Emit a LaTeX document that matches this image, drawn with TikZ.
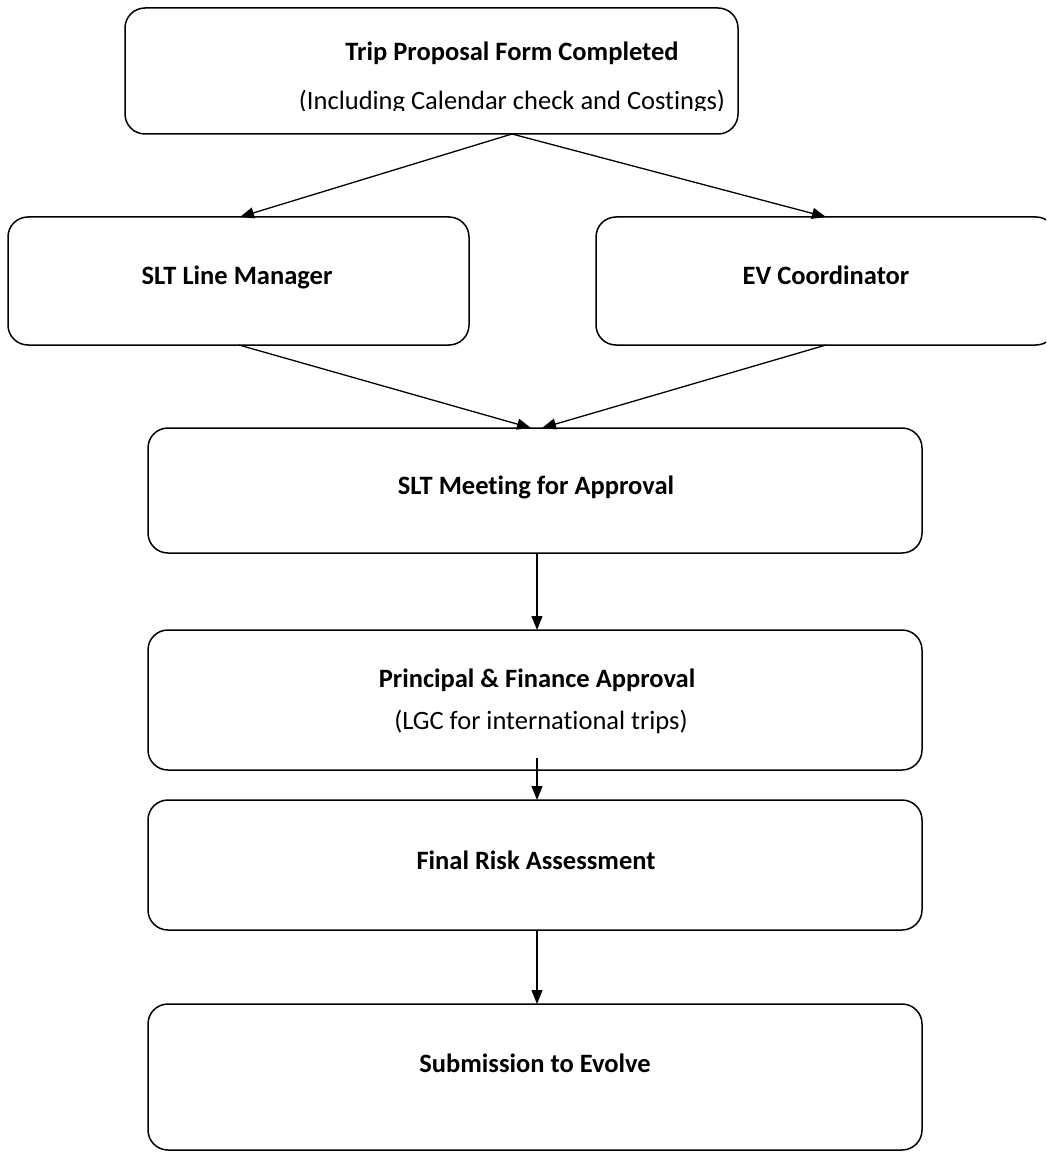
\documentclass[tikz,border=0pt]{standalone}
\usepackage{fontspec}
\setmainfont{Carlito}[Ligatures={NoCommon}]
\usetikzlibrary{arrows.meta}
\tikzset{
  flowbox/.style={draw=black, line width=1.5pt, rounded corners=20pt, fill=white, inner sep=0pt},
  conn/.style={line width=1.3pt, -{Triangle[length=14pt,width=11pt]}},
  title/.style={font=\fontsize{26.5}{30}\selectfont\bfseries, inner sep=0pt, anchor=base},
  sub/.style={font=\fontsize{26.5}{30}\selectfont, inner sep=0pt, anchor=base}
}
\begin{document}
\begin{tikzpicture}[x=1pt,y=-1pt]
\useasboundingbox (0,0) rectangle (1046,1158);
\clip (0,0) rectangle (1046,1158);
\fill[white] (0,0) rectangle (1046,1158);
% boxes
\node[flowbox, minimum width=613pt, minimum height=126pt] (top) at (431.5,71) {};
\node[title] (topt) at (512,61) {Trip Proposal Form Completed};
\begin{scope}
\clip[rounded corners=20pt] (126,9) rectangle (737,111);
\node[sub] (tops) at (512,110) {(Including Calendar check and Costings)};
\end{scope}
\node[flowbox, minimum width=461pt, minimum height=128pt] (slm) at (238.5,281) {};
\node[title] (slmt) at (237,284) {SLT Line Manager};
\node[flowbox, minimum width=460pt, minimum height=128pt] (ev) at (826,281) {};
\node[title] (evt) at (826,284) {EV Coordinator};
\node[flowbox, minimum width=774pt, minimum height=125pt] (meet) at (535,490.5) {};
\node[title] (meett) at (536,494) {SLT Meeting for Approval};
\node[flowbox, minimum width=774pt, minimum height=140pt] (pfa) at (535,700) {};
\node[title] (pfat) at (537,687) {Principal \& Finance Approval};
\node[sub] (pfas) at (541,729) {(LGC for international trips)};
\node[flowbox, minimum width=774pt, minimum height=130pt] (fra) at (535,865) {};
\node[title] (frat) at (536,869) {Final Risk Assessment};
\node[flowbox, minimum width=774pt, minimum height=146pt] (sub) at (535,1077) {};
\node[title] (subt) at (535,1072) {Submission to Evolve};
% connectors
\coordinate (p0) at (512,134);
\draw[conn] (p0) -- (240,217);
\draw[conn] (p0) -- (826,217);
\draw[conn] (239,345) -- (531,428);
\draw[conn] (826,345) -- (542,428);
\draw[conn] (537,553) -- (537,630);
\draw[conn] (537,758) -- (537,800);
\draw[conn] (537,930) -- (537,1004);
\end{tikzpicture}
\end{document}
